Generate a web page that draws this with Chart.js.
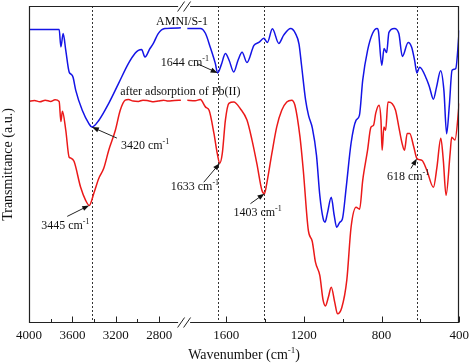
<!DOCTYPE html>
<html>
<head>
<meta charset="utf-8">
<script src="https://cdn.jsdelivr.net/npm/chart.js@4.4.0/dist/chart.umd.min.js"></script>
<style>
  html, body { margin: 0; padding: 0; background: #fff; }
</style>
</head>
<body>
<canvas id="ftir" width="474" height="364"></canvas>
<script>
// FTIR spectra, broken wavenumber axis (4000-2600 | 1800-400)

const blueWave = [4000, 3722, 3706, 3685, 3661, 3630, 3612, 3594, 3569, 3509, 3448, 3420, 3357, 3265,
  3174, 3083, 3022, 2992, 2962, 2931, 2885, 2855, 2809, 2748, 2600,
  1800, 1733, 1707, 1682, 1656, 1644, 1625, 1604, 1585, 1561, 1539, 1518, 1493, 1457, 1432, 1406,
  1388, 1362, 1329, 1304, 1268, 1243, 1225, 1212, 1191, 1176, 1156, 1135, 1118, 1101, 1091, 1079,
  1059, 1044, 1031, 1015, 1002, 982, 957, 931, 914, 897, 872, 846, 823, 816, 799, 787, 774, 762,
  734, 711, 693, 663, 645, 630, 618, 604, 568, 553, 533, 517, 496, 479, 465, 451, 437, 418, 400];
const blueT = [92.6, 92.6, 87.1, 91.3, 86.0, 79.2, 78.5, 77.5, 73.4, 67.1, 62.9, 61.8, 63.9, 69.3,
  75.6, 81.9, 85.1, 86.0, 86.3, 83.9, 86.6, 88.1, 91.3, 92.9, 93.1,
  92.9, 92.9, 91.4, 87.0, 81.9, 78.9, 81.5, 85.0, 82.9, 79.2, 82.9, 85.4, 82.2, 87.6, 88.5, 89.8,
  88.5, 92.8, 88.2, 90.8, 92.9, 91.3, 88.0, 81.3, 70.3, 65.5, 61.4, 52.9, 40.3, 33.0, 31.8, 34.6,
  39.7, 34.0, 30.2, 31.8, 32.7, 42.8, 56.7, 64.0, 65.5, 76.6, 86.0, 91.4, 92.9, 92.0, 81.3, 86.6, 85.3, 91.7,
  92.9, 91.3, 84.1, 88.5, 87.0, 82.9, 78.9, 80.7, 76.9, 74.4, 70.6, 74.4, 79.6, 73.4, 59.7, 68.7, 79.7, 80.3, 92.3];

const redWave = [4000, 3950, 3900, 3850, 3800, 3760, 3722, 3706, 3692, 3661, 3630, 3612, 3585, 3524,
  3478, 3445, 3400, 3357, 3311, 3265, 3204, 3159, 3113, 3083, 3040, 2992, 2950, 2901, 2850, 2809,
  2760, 2718, 2660, 2600,
  1800, 1760, 1733, 1706, 1688, 1663, 1646, 1633, 1620, 1604, 1586, 1561, 1527, 1493, 1467, 1442,
  1416, 1403, 1391, 1365, 1340, 1314, 1288, 1263, 1246, 1220, 1203, 1177, 1157, 1140, 1118, 1101,
  1089, 1074, 1059, 1041, 1027, 1005, 979, 957, 931, 913, 897, 872, 855, 841, 830, 813, 803, 797,
  788, 779, 767, 745, 728, 711, 694, 682, 668, 655, 634, 618, 592, 567, 533, 515, 495, 482, 468,
  447, 439, 422, 400];
const redT = [69.9, 70.2, 69.8, 70.3, 69.9, 70.4, 69.9, 63.6, 66.8, 60.8, 52.3, 52.0, 51.0, 42.8,
  38.7, 37.1, 41.2, 45.6, 48.8, 54.5, 60.8, 67.1, 70.3, 70.5, 70.0, 69.9, 70.3, 70.1, 69.8, 70.0,
  70.3, 70.0, 70.2, 70.3,
  70.3, 70.1, 70.5, 68.1, 67.1, 59.8, 53.5, 50.4, 53.5, 64.0, 69.3, 69.7, 67.6, 64.0, 57.7, 50.3,
  41.9, 40.8, 44.0, 53.4, 61.8, 67.1, 69.7, 70.3, 68.7, 58.7, 48.2, 29.2, 25.8, 19.1, 15.0, 7.2,
  5.4, 8.1, 11.3, 6.5, 2.9, 4.8, 13.5, 30.2, 36.5, 35.9, 45.0, 54.5, 61.7, 62.4, 66.2, 68.7, 64.0, 54.5,
  61.8, 60.8, 69.7, 69.2, 67.1, 61.8, 56.6, 54.5, 59.8, 59.8, 55.5, 51.9, 51.3, 48.2, 42.8, 49.1, 58.3, 51.3, 40.3,
  53.5, 58.6, 57.7, 69.3];

const majorTicks = [4000, 3600, 3200, 2800, 1600, 1200, 800, 400];
const minorTicks = [3800, 3400, 3000, 1400, 1000, 600];
const markLines = [3420, 1644, 1403, 618];

// peak callouts: label, wavenumber, transmittance at the arrow tip
const peakNames = ['3420', '1644', '3445', '1633', '1403', '618'];
const peakWave = [3420, 1644, 3445, 1633, 1403, 618];
const peakT = [61.8, 78.9, 37.1, 50.4, 40.8, 51.9];

const WAVE_MAX = 4000, LEFT_END = 2600, RIGHT_START = 1800, WAVE_MIN = 400;
const LEFT_SHARE = 0.353, RIGHT_BEGIN = 0.368;
const SERIF = "'Liberation Serif', 'Times New Roman', serif";

function waveFrac(w) {
  if (w >= LEFT_END) return (WAVE_MAX - w) / (WAVE_MAX - LEFT_END) * LEFT_SHARE;
  if (w <= RIGHT_START) return RIGHT_BEGIN + (RIGHT_START - w) / (RIGHT_START - WAVE_MIN) * (1 - RIGHT_BEGIN);
  return LEFT_SHARE + (LEFT_END - w) / (LEFT_END - RIGHT_START) * (RIGHT_BEGIN - LEFT_SHARE);
}

function fracWave(f) {
  if (f <= LEFT_SHARE) return WAVE_MAX - f / LEFT_SHARE * (WAVE_MAX - LEFT_END);
  if (f >= RIGHT_BEGIN) return RIGHT_START - (f - RIGHT_BEGIN) / (1 - RIGHT_BEGIN) * (RIGHT_START - WAVE_MIN);
  return LEFT_END - (f - LEFT_SHARE) / (RIGHT_BEGIN - LEFT_SHARE) * (LEFT_END - RIGHT_START);
}

const LinearScale = Chart.LinearScale || Chart.registry.getScale('linear');

// linear scale with a gap between 2600 and 1800 cm-1
class BrokenScale extends LinearScale {
  buildTicks() {
    return majorTicks.map(v => ({ value: v }));
  }
  getPixelForValue(value) {
    return this.getPixelForDecimal(waveFrac(value));
  }
  getValueForPixel(pixel) {
    return fracWave(this.getDecimalForPixel(pixel));
  }
}
BrokenScale.id = 'broken';
BrokenScale.defaults = LinearScale.defaults;
Chart.register(BrokenScale);

function toPoints(waves, vals) {
  const pts = [];
  for (let i = 0; i < waves.length; i++) {
    if (i > 0 && waves[i - 1] >= LEFT_END && waves[i] <= RIGHT_START) {
      pts.push({ x: 2200, y: null });
    }
    pts.push({ x: waves[i], y: vals[i] });
  }
  return pts;
}

function drawCm(ctx, label, x, y) {
  ctx.font = '12px ' + SERIF;
  ctx.fillText(label + ' cm', x, y);
  const w = ctx.measureText(label + ' cm').width;
  ctx.font = '8px ' + SERIF;
  ctx.fillText('-1', x + w, y - 5);
}

function drawArrow(ctx, x0, y0, x1, y1) {
  const ang = Math.atan2(y1 - y0, x1 - x0);
  ctx.beginPath();
  ctx.moveTo(x0, y0);
  ctx.lineTo(x1 - 4 * Math.cos(ang), y1 - 4 * Math.sin(ang));
  ctx.stroke();
  ctx.beginPath();
  ctx.moveTo(x1, y1);
  ctx.lineTo(x1 - 7 * Math.cos(ang) + 2.6 * Math.sin(ang), y1 - 7 * Math.sin(ang) - 2.6 * Math.cos(ang));
  ctx.lineTo(x1 - 7 * Math.cos(ang) - 2.6 * Math.sin(ang), y1 - 7 * Math.sin(ang) + 2.6 * Math.cos(ang));
  ctx.closePath();
  ctx.fill();
}

// offsets of arrow tail and text start, relative to the arrow tip
const calloutLayout = [
  { tail: [25, 11], text: [29, 22] },
  { tail: [-20, -9], text: [-57, -7] },
  { tail: [-22, 11], text: [-48, 24] },
  { tail: [-16, 19], text: [-49, 27] },
  { tail: [-14, 10], text: [-31, 22] },
  { tail: [-6, 10], text: [-30, 22] }
];

const overlay = {
  id: 'ftirOverlay',
  beforeDatasetsDraw(chart) {
    const { ctx, chartArea: ca, scales: { x } } = chart;
    ctx.save();
    ctx.strokeStyle = '#333';
    ctx.lineWidth = 1;
    ctx.setLineDash([2, 2]);
    markLines.forEach(w => {
      const px = Math.round(x.getPixelForValue(w)) + 0.5;
      ctx.beginPath();
      ctx.moveTo(px, ca.top);
      ctx.lineTo(px, ca.bottom);
      ctx.stroke();
    });
    ctx.restore();
  },
  afterDraw(chart) {
    const { ctx, chartArea: ca, scales: { x, y } } = chart;
    const L = Math.round(ca.left) + 0.5, R = Math.round(ca.right) - 0.5;
    const T = Math.round(ca.top) + 0.5, B = Math.round(ca.bottom) - 0.5;
    const bx = (x.getPixelForValue(LEFT_END) + x.getPixelForValue(RIGHT_START)) / 2;
    ctx.save();
    ctx.strokeStyle = '#222';
    ctx.fillStyle = '#111';
    ctx.lineWidth = 1.2;
    // frame with gap at the break
    ctx.beginPath();
    ctx.moveTo(bx - 6, T); ctx.lineTo(L, T); ctx.lineTo(L, B); ctx.lineTo(bx - 6, B);
    ctx.moveTo(bx + 6, T); ctx.lineTo(R, T); ctx.lineTo(R, B); ctx.lineTo(bx + 6, B);
    ctx.stroke();
    // break marks
    ctx.lineWidth = 1;
    [T, B].forEach(yy => {
      [-3, 3].forEach(d => {
        ctx.beginPath();
        ctx.moveTo(bx + d - 3.5, yy + 5);
        ctx.lineTo(bx + d + 3.5, yy - 5);
        ctx.stroke();
      });
    });
    // inward ticks
    majorTicks.concat(minorTicks).forEach(w => {
      const px = Math.round(x.getPixelForValue(w)) + 0.5;
      const len = majorTicks.includes(w) ? 6 : 3.5;
      ctx.beginPath();
      ctx.moveTo(px, B);
      ctx.lineTo(px, B - len);
      ctx.stroke();
    });
    // series names
    ctx.font = '12px ' + SERIF;
    ctx.textBaseline = 'alphabetic';
    ctx.textAlign = 'center';
    ctx.fillText('AMNI/S-1', bx - 2, y.getPixelForValue(94));
    ctx.textAlign = 'left';
    ctx.fillText('after adsorption of Pb(II)', x.getPixelForValue(3160), y.getPixelForValue(71.8));
    // peak callouts
    peakNames.forEach((name, i) => {
      const tx = x.getPixelForValue(peakWave[i]);
      const ty = y.getPixelForValue(peakT[i]);
      const lay = calloutLayout[i];
      ctx.lineWidth = 1;
      drawArrow(ctx, tx + lay.tail[0], ty + lay.tail[1], tx, ty);
      drawCm(ctx, name, tx + lay.text[0], ty + lay.text[1]);
    });
    // x axis title with superscript
    ctx.font = '14px ' + SERIF;
    const a = 'Wavenumber (cm', c = ')';
    const wa = ctx.measureText(a).width, wc = ctx.measureText(c).width;
    ctx.font = '9px ' + SERIF;
    const wb = ctx.measureText('-1').width;
    let sx = (ca.left + ca.right) / 2 - (wa + wb + wc) / 2;
    const sy = 359;
    ctx.font = '14px ' + SERIF;
    ctx.fillText(a, sx, sy);
    ctx.font = '9px ' + SERIF;
    ctx.fillText('-1', sx + wa, sy - 6);
    ctx.font = '14px ' + SERIF;
    ctx.fillText(c, sx + wa + wb, sy);
    ctx.restore();
  }
};

new Chart(document.getElementById('ftir'), {
  type: 'line',
  data: {
    datasets: [
      {
        label: 'AMNI/S-1',
        data: toPoints(blueWave, blueT),
        borderColor: 'rgb(20, 20, 230)',
        borderWidth: 1.5,
        pointRadius: 0,
        cubicInterpolationMode: 'monotone',
        fill: false
      },
      {
        label: 'after adsorption of Pb(II)',
        data: toPoints(redWave, redT),
        borderColor: 'rgb(235, 25, 25)',
        borderWidth: 1.5,
        pointRadius: 0,
        cubicInterpolationMode: 'monotone',
        fill: false
      }
    ]
  },
  options: {
    responsive: false,
    animation: false,
    events: [],
    layout: { padding: { top: 6, right: 9, left: 0, bottom: 0 } },
    plugins: { legend: { display: false }, tooltip: { enabled: false } },
    scales: {
      x: {
        type: 'broken',
        min: WAVE_MIN,
        max: WAVE_MAX,
        grid: { display: false, drawTicks: false },
        border: { display: false },
        ticks: {
          autoSkip: false,
          maxRotation: 0,
          padding: 5,
          color: '#111',
          font: { family: SERIF, size: 13 },
          callback: v => String(v)
        },
        afterFit: s => { s.height = 41; }
      },
      y: {
        min: 0,
        max: 100,
        grid: { display: false, drawTicks: false },
        border: { display: false },
        ticks: { display: false },
        title: {
          display: true,
          text: 'Transmittance (a.u.)',
          color: '#111',
          font: { family: SERIF, size: 14 },
          padding: 0
        },
        afterFit: s => { s.width = 29; }
      }
    }
  },
  plugins: [overlay]
});
</script>
</body>
</html>
